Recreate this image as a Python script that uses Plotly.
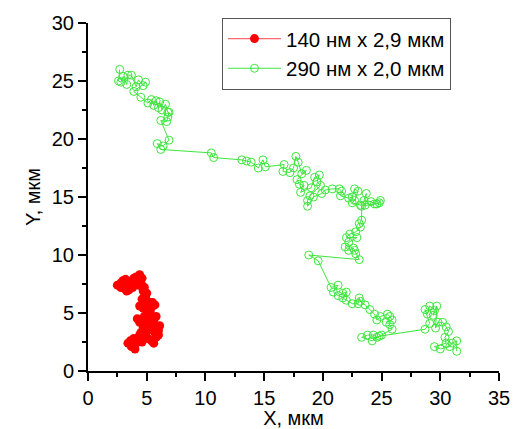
import plotly.graph_objects as go

# Red trajectory: 140 nm x 2.9 um
red_x = [4.0, 3.7, 3.4, 3.6, 3.9, 4.1, 4.3, 4.6, 4.4, 4.8, 5.1, 5.4, 5.6, 5.8, 6.0, 5.7, 6.0, 5.8, 6.1, 5.6,
         5.3, 5.0, 4.7, 4.5, 5.0, 5.3, 5.6, 5.8, 5.4, 5.0, 4.6, 4.2, 4.4, 4.8, 5.1, 5.3, 5.0, 4.7, 4.4, 4.7,
         5.0, 5.4, 5.7, 5.5, 5.1, 4.8, 4.6, 4.9, 5.0, 4.7, 4.8, 4.6, 4.4, 4.6, 4.4, 4.1, 3.9, 3.7, 3.8, 3.5,
         3.3, 3.1, 3.3, 3.5, 3.2, 3.0, 2.8, 2.5, 2.8, 3.0, 3.4, 4.2, 4.3]
red_y = [1.9, 2.1, 2.4, 2.6, 2.8, 2.4, 2.7, 2.5, 3.1, 3.0, 2.8, 2.6, 2.4, 2.9, 3.1, 3.3, 3.5, 3.8, 3.9, 4.0,
         3.6, 3.4, 3.7, 3.3, 3.9, 4.2, 4.4, 4.7, 4.6, 4.3, 4.4, 4.5, 4.2, 4.7, 4.8, 5.1, 5.3, 5.4, 5.6, 5.7,
         5.6, 5.5, 5.7, 5.9, 6.0, 5.9, 6.2, 6.4, 6.7, 6.9, 7.2, 7.4, 7.7, 8.0, 8.3, 8.1, 8.0, 7.6, 7.2, 7.0,
         6.9, 7.1, 7.4, 7.7, 7.9, 7.8, 7.6, 7.4, 7.2, 7.5, 7.5, 7.6, 7.4]

# Green trajectory: 290 nm x 2.0 um
green_x = [2.7, 2.6, 2.8, 3.0, 3.3, 3.4, 3.7, 4.1, 4.3, 4.7, 4.9, 3.9, 4.5, 5.1, 5.4, 5.6, 5.8, 6.0, 6.1, 6.3,
           6.6, 6.8, 6.9, 6.8, 6.7, 6.2, 6.9, 6.4, 5.9, 6.2, 10.5, 10.7, 13.1, 13.5, 13.9, 14.5, 14.9, 15.1, 16.7, 16.6,
           17.2, 17.5, 17.7, 17.9, 18.2, 18.6, 17.8, 18.0, 18.4, 18.1, 19.0, 19.3, 19.7, 19.5, 19.8, 18.9, 18.7, 18.7, 19.2, 19.9,
           20.2, 20.8, 21.4, 21.6, 21.5, 22.2, 22.5, 22.7, 23.0, 22.7, 22.5, 23.2, 23.6, 23.7, 23.5, 24.1, 24.4, 24.6, 24.9, 24.8,
           23.3, 23.3, 23.1, 23.2, 22.8, 22.3, 22.0, 22.9, 22.2, 21.9, 22.2, 22.6, 22.7, 22.8, 23.1, 18.8, 19.6, 20.7, 21.3, 20.9,
           21.3, 21.7, 22.0, 21.7, 22.0, 22.5, 23.0, 23.1, 23.2, 23.6, 24.0, 24.4, 24.6, 24.9, 25.5, 25.7, 25.9, 25.4, 25.7, 25.9,
           25.0, 24.6, 24.3, 23.8, 23.3, 24.2, 24.8, 28.7, 29.1, 28.7, 28.9, 29.1, 29.5, 29.4, 29.7, 29.6, 29.8, 30.2, 30.5, 30.7,
           30.4, 30.5, 29.5, 30.0, 30.8, 31.0, 31.4, 31.4]
green_y = [26.0, 25.0, 24.9, 25.4, 24.7, 25.5, 25.5, 24.5, 25.1, 24.6, 24.9, 24.1, 23.6, 23.1, 23.4, 22.9, 23.3, 22.7, 23.2, 22.5,
           23.0, 22.3, 22.3, 21.9, 21.5, 21.6, 19.9, 19.4, 19.6, 19.1, 18.8, 18.4, 18.2, 18.1, 18.0, 17.5, 18.2, 17.6, 17.8, 17.2,
           17.1, 17.5, 18.5, 18.0, 17.0, 17.3, 16.5, 16.1, 16.0, 15.4, 15.8, 16.7, 16.9, 16.3, 16.0, 15.1, 14.7, 14.2, 15.0, 15.3,
           15.6, 15.7, 15.7, 15.5, 15.1, 14.9, 15.0, 15.7, 15.5, 14.7, 14.5, 14.3, 14.3, 15.3, 14.7, 14.6, 14.4, 14.4, 14.7, 14.5,
           14.2, 13.0, 12.7, 12.4, 12.0, 11.8, 11.5, 11.5, 11.1, 10.7, 10.4, 10.6, 10.4, 10.1, 9.6, 10.0, 9.5, 7.2, 7.4, 6.8,
           6.5, 6.7, 6.8, 6.3, 6.1, 5.8, 5.8, 6.3, 6.0, 5.7, 5.3, 4.9, 4.4, 4.7, 4.9, 4.7, 4.4, 4.2, 4.0, 3.6,
           3.1, 2.9, 3.1, 3.1, 2.9, 2.6, 3.0, 3.6, 4.1, 5.3, 4.9, 5.6, 5.2, 4.8, 5.6, 3.7, 4.2, 4.2, 3.8, 3.4,
           2.9, 2.4, 2.1, 1.9, 2.1, 2.4, 2.6, 1.7]

names = ["140 нм x 2,9 мкм", "290 нм x 2,0 мкм"]
x_ticks = [0, 5, 10, 15, 20, 25, 30, 35]
y_ticks = [0, 5, 10, 15, 20, 25, 30]

FONT = "Liberation Sans, Arial, sans-serif"

fig = go.Figure()
fig.add_trace(go.Scatter(
    x=red_x, y=red_y, mode="lines+markers", name=names[0],
    line=dict(color="#ff6a6a", width=1.2),
    marker=dict(symbol="circle", size=9, color="#ff0000", line=dict(width=0)),
))
fig.add_trace(go.Scatter(
    x=green_x, y=green_y, mode="lines+markers", name=names[1],
    line=dict(color="#3ce63c", width=1),
    marker=dict(symbol="circle-open", size=8, color="#3ce63c", line=dict(width=1)),
))

axis_common = dict(
    showline=True, linecolor="black", linewidth=2, mirror=False,
    showgrid=False, zeroline=False, automargin=False,
    ticks="outside", ticklen=8, tickwidth=1.6, tickcolor="black",
    ticklabeloverflow="allow",
    tickfont=dict(family=FONT, size=20, color="black"),
    minor=dict(ticks="outside", ticklen=4, tickwidth=1.6, tickcolor="black", showgrid=False),
)

fig.update_xaxes(range=[0, 35], tickvals=x_ticks, minor_dtick=2.5, ticklabelstandoff=0,
                 title=dict(text="X, мкм", font=dict(family=FONT, size=20, color="black"), standoff=17),
                 **axis_common)
fig.update_yaxes(range=[0, 30], tickvals=y_ticks, minor_dtick=2.5, ticklabelstandoff=0,
                 title=dict(text="Y, мкм", font=dict(family=FONT, size=20, color="black"), standoff=6),
                 **axis_common)

# The page body adds an 8px offset, so the figure is 8px smaller than the window.
fig.update_layout(
    width=513, height=421,
    margin=dict(l=80, r=22, t=10, b=58),
    plot_bgcolor="white", paper_bgcolor="white",
    font=dict(family=FONT, size=20, color="black"),
    legend=dict(x=0.326, y=1.015, xanchor="left", yanchor="top",
                bgcolor="white", bordercolor="#555555", borderwidth=1,
                font=dict(family=FONT, size=20.5, color="black"),
                tracegroupgap=0, itemwidth=53),
    showlegend=True,
)

fig.write_html("out.html")
